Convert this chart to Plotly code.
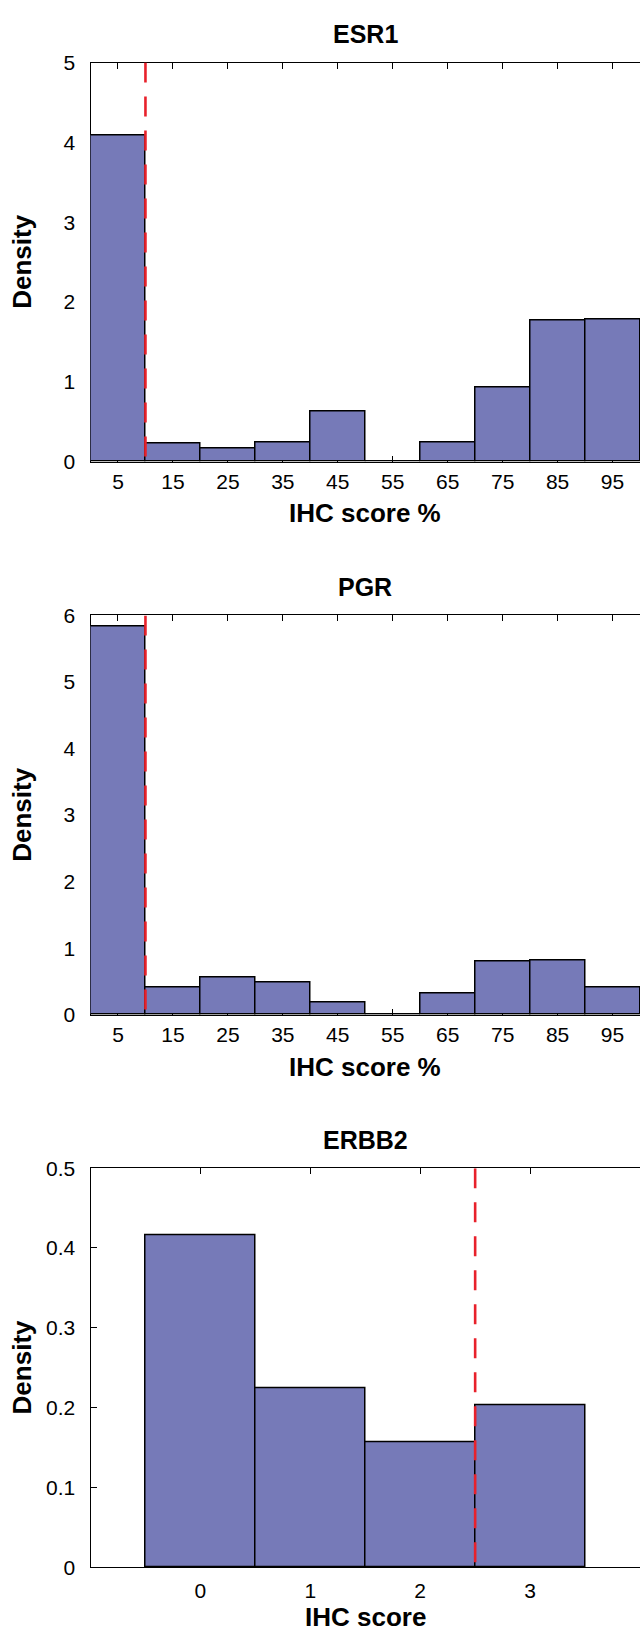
import plotly.graph_objects as go

# ---------------- data ----------------
pct_bins = [5, 15, 25, 35, 45, 55, 65, 75, 85, 95]
esr1_density = [4.08, 0.226, 0.165, 0.239, 0.621, 0.0, 0.239, 0.934, 1.770, 1.786]
pgr_density = [5.83, 0.405, 0.563, 0.489, 0.183, 0.0, 0.326, 0.795, 0.81, 0.415]
erbb2_scores = [0, 1, 2, 3]
erbb2_density = [0.4157, 0.2245, 0.1566, 0.2032]

esr1_cut = 10
pgr_cut = 10
erbb2_cut = 2.5

panel_titles = ["ESR1", "PGR", "ERBB2"]
x_titles = ["IHC score %", "IHC score %", "IHC score"]
y_title = "Density"

esr1_yticks = [0, 1, 2, 3, 4, 5]
pgr_yticks = [0, 1, 2, 3, 4, 5, 6]
erbb2_yticks = [0, 0.1, 0.2, 0.3, 0.4, 0.5]
erbb2_yticktext = ["0", "0.1", "0.2", "0.3", "0.4", "0.5"]

# ---------------- style ----------------
W, H = 640, 1643
BAR_COLOR = "#767ab8"
RED = "#e8212b"
FONT = "Liberation Sans, Arial, Helvetica, sans-serif"
TICK_FONT = dict(family=FONT, size=21, color="black")
TITLE_SIZE = 25
AXTITLE_SIZE = 26

plot_left = 90.5
panels_px = [(51.3, 456.0), (612.0, 1017.0), (1172.6, 1577.3)]
xlabel_standoff = [1, 1, 5]
xtitle_gap = [52.3, 53.0, 50.4]


def ypaper(py):
    return 1 - py / H


fig = go.Figure()

specs = [
    (pct_bins, esr1_density, 10, [0, 100], pct_bins, [0, 5], esr1_yticks, None, esr1_cut),
    (pct_bins, pgr_density, 10, [0, 100], pct_bins, [0, 6], pgr_yticks, None, pgr_cut),
    (erbb2_scores, erbb2_density, 1, [-1, 4], erbb2_scores, [0, 0.5], erbb2_yticks, erbb2_yticktext, erbb2_cut),
]

annotations = []
for i, (xv, yv, bw, xr, xt, yr, yt, ytt, cut) in enumerate(specs):
    n = "" if i == 0 else str(i + 1)
    xa, ya = "x" + n, "y" + n
    fig.add_trace(go.Bar(
        x=xv, y=yv, width=bw, xaxis=xa, yaxis=ya,
        marker=dict(color=BAR_COLOR, line=dict(color="black", width=1.5)),
        showlegend=False,
    ))
    fig.add_trace(go.Scatter(
        x=[cut, cut], y=[yr[1], 0], xaxis=xa, yaxis=ya, mode="lines",
        line=dict(color=RED, width=2.6, dash="20px,14px"),
        showlegend=False, hoverinfo="skip",
    ))
    top, bot = panels_px[i]
    dom_y = [ypaper(bot), ypaper(top)]
    tick_common = dict(
        ticks="inside", ticklen=6, tickcolor="black", tickwidth=1,
        showgrid=False, zeroline=False, layer="below traces",
        tickfont=TICK_FONT,
    )
    fig.layout["xaxis" + n] = dict(
        tick_common, showline=True, linecolor="black", linewidth=1,
        mirror="ticks", domain=[plot_left / W, 1.0], range=xr, tickvals=xt,
        anchor=ya, ticklabelstandoff=xlabel_standoff[i],
    )
    yd = dict(tick_common, showline=True, linecolor="black", linewidth=1,
              mirror=False, domain=dom_y, range=yr, tickvals=yt, anchor=xa,
              ticklabelstandoff=10)
    if ytt is not None:
        yd["ticktext"] = ytt
    fig.layout["yaxis" + n] = yd
    # right-hand ticks without a border line (the plot runs off the right edge)
    fig.layout["yaxis" + str(i + 4)] = dict(
        tick_common, showline=False, showticklabels=False, side="right",
        overlaying=ya, anchor=xa, range=yr, tickvals=yt,
    )

    cx = (plot_left + W) / 2
    annotations.append(dict(
        text="<b>%s</b>" % panel_titles[i], x=cx / W, y=ypaper(top - 28.5),
        xref="paper", yref="paper", xanchor="center", yanchor="middle",
        showarrow=False, font=dict(family=FONT, size=TITLE_SIZE, color="black"),
    ))
    annotations.append(dict(
        text="<b>%s</b>" % x_titles[i], x=cx / W, y=ypaper(bot + xtitle_gap[i]),
        xref="paper", yref="paper", xanchor="center", yanchor="middle",
        showarrow=False, font=dict(family=FONT, size=AXTITLE_SIZE, color="black"),
    ))
    annotations.append(dict(
        text="<b>%s</b>" % y_title, x=21.7 / W, y=ypaper((top + bot) / 2),
        xref="paper", yref="paper", xanchor="center", yanchor="middle",
        textangle=-90, showarrow=False,
        font=dict(family=FONT, size=AXTITLE_SIZE, color="black"),
    ))

fig.update_layout(
    width=W, height=H, margin=dict(l=0, r=0, t=0, b=0),
    paper_bgcolor="white", plot_bgcolor="white",
    annotations=annotations, bargap=0, showlegend=False,
)

fig.write_html(
    "out.html",
    config={"displayModeBar": False},
    post_script="document.body.style.margin='0';document.body.style.padding='0';"
                "document.documentElement.style.overflow='hidden';",
)
